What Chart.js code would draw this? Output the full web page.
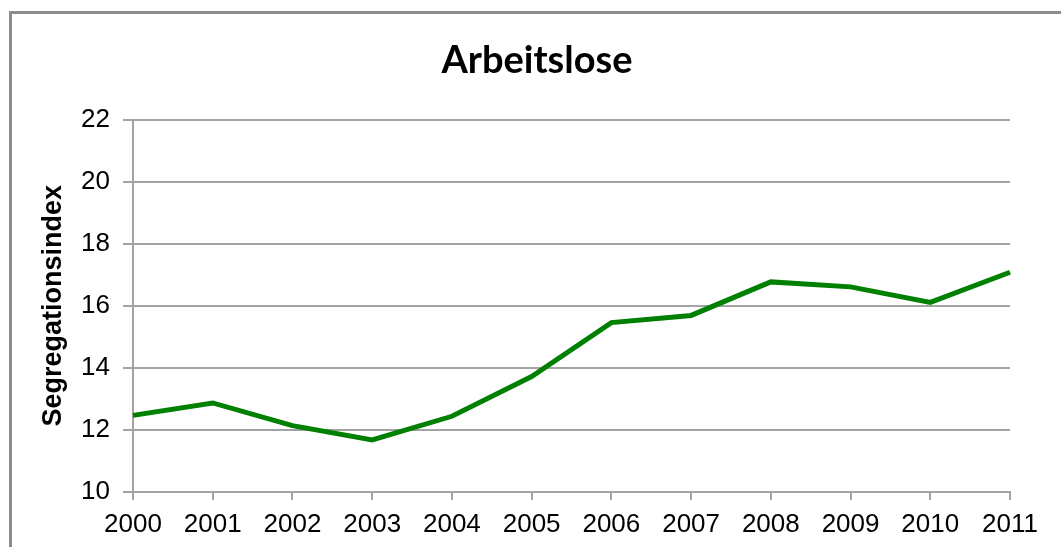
<!DOCTYPE html>
<html lang="de">
<head>
<meta charset="utf-8">
<title>Arbeitslose</title>
<script src="https://cdn.jsdelivr.net/npm/chart.js@4/dist/chart.umd.min.js"></script>
<style>
  html, body { margin: 0; padding: 0; background: #fff; overflow: hidden; }
  #frame {
    position: absolute; left: 9px; top: 11px;
    width: 1120px; height: 620px;
    border: 3px solid #8c8c8c;
  }
  #wrap { position: absolute; left: 0; top: 0; width: 1061px; height: 547px; }
</style>
</head>
<body>
<div id="frame"></div>
<div id="wrap"><canvas id="chartArbeitslose" width="1061" height="547"></canvas></div>
<script>
// Segregationsindex der Arbeitslosen, 2000-2011
var years = ["2000", "2001", "2002", "2003", "2004", "2005", "2006", "2007", "2008", "2009", "2010", "2011"];
var segregationIndex = [12.47, 12.87, 12.14, 11.68, 12.44, 13.72, 15.46, 15.69, 16.77, 16.61, 16.11, 17.08];
var yTicks = [10, 12, 14, 16, 18, 20, 22];

var gridColor = "#a3a3a3";
var tickFont = { family: "'Liberation Sans', Arial, sans-serif", size: 26 };

var canvas = document.querySelector("#chartArbeitslose").getContext("2d");

var lineChart = new Chart(canvas, {
    type: 'line',
    data: {
        labels: years,
        datasets: [
            {
                label: "Arbeitslose",
                data: segregationIndex,
                borderColor: "#008000",
                backgroundColor: "#008000",
                borderWidth: 5,
                pointRadius: 0,
                tension: 0,
                fill: false
            }
        ]
    },
    options: {
        responsive: false,
        animation: false,
        layout: {
            padding: { left: 13, right: 0, top: 0, bottom: 0 }
        },
        plugins: {
            legend: { display: false },
            tooltip: { enabled: false },
            title: {
                display: true,
                text: "Arbeitslose",
                color: "#000",
                font: { family: "Lato, 'Open Sans', sans-serif", size: 38, weight: 'bold' },
                padding: { top: 38, bottom: 36 }
            }
        },
        scales: {
            x: {
                type: 'category',
                offset: false,
                grid: {
                    display: true,
                    drawOnChartArea: false,
                    drawTicks: true,
                    tickLength: 8,
                    color: gridColor,
                    lineWidth: 2
                },
                border: { display: true, color: gridColor, width: 2 },
                ticks: {
                    color: "#000",
                    font: tickFont,
                    padding: 9,
                    maxRotation: 0,
                    autoSkip: false
                },
                afterFit: function(scale) {
                    scale.height = 55;
                }
            },
            y: {
                min: 10,
                max: 22,
                afterBuildTicks: function(scale) {
                    scale.ticks = yTicks.map(function(v) { return { value: v }; });
                },
                grid: {
                    display: true,
                    drawOnChartArea: true,
                    drawTicks: true,
                    tickLength: 10,
                    color: gridColor,
                    lineWidth: 2
                },
                border: { display: true, color: gridColor, width: 2 },
                ticks: {
                    color: "#000",
                    font: tickFont,
                    padding: 13
                },
                title: {
                    display: true,
                    text: "Segregationsindex",
                    color: "#000",
                    font: { family: "'Liberation Sans', Arial, sans-serif", size: 27, weight: 'bold' },
                    padding: { top: 24, bottom: 0 }
                },
                afterFit: function(scale) {
                    scale.width = 120;
                }
            },
            // empty strip on the right so the plot ends at 2011
            yRight: {
                position: 'right',
                display: true,
                grid: { display: false },
                border: { display: false },
                ticks: { display: false },
                afterFit: function(scale) {
                    scale.width = 51;
                }
            }
        }
    }
});
</script>
</body>
</html>
